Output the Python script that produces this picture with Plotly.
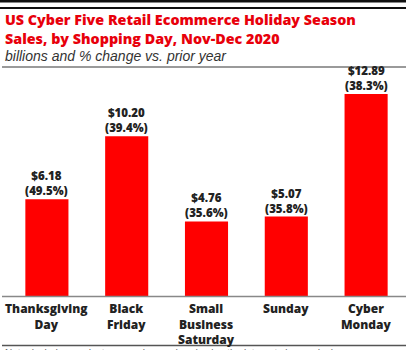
import plotly.graph_objects as go

# Cyber Five shopping days, sales in billions and % change vs. prior year
days = ["Thanksgiving<br>Day", "Black<br>Friday", "Small<br>Business<br>Saturday", "Sunday", "Cyber<br>Monday"]
sales = [6.18, 10.20, 4.76, 5.07, 12.89]
pct_change = [49.5, 39.4, 35.6, 35.8, 38.3]

W, H = 406, 350
ML, MR, MT, MB = 7, 0, 75, 54
PH = H - MT - MB
PW = W - ML - MR


def py(p):
    """pixel row -> paper y"""
    return (H - MB - p) / PH


def px(p):
    """pixel column -> paper x"""
    return (p - ML) / PW


RED = "#ff0000"
BOLD = "Open Sans"

fig = go.Figure(
    go.Bar(
        x=list(range(len(days))),
        y=sales,
        marker=dict(color=RED, line=dict(width=0)),
        width=0.54,
        hoverinfo="skip",
    )
)

ann = []
# value and % change label above each bar
for i, (v, p) in enumerate(zip(sales, pct_change)):
    ann.append(dict(x=i, y=v, xref="x", yref="y", text=f"${v:.2f}<br>({p:.1f}%)",
                    showarrow=False, yanchor="bottom", yshift=-1,
                    font=dict(family=BOLD, size=11.5, color="#222", weight=800)))

# category labels under each bar
for i, d in enumerate(days):
    ann.append(dict(x=i, y=py(298), xref="x", yref="paper",
                    text=d, showarrow=False, yanchor="top",
                    font=dict(family=BOLD, size=12, color="#222", weight=800)))

# title block
ann += [
    dict(x=px(3), y=py(8), xref="paper", yref="paper", xanchor="left", yanchor="top",
         align="left",
         text="US Cyber Five Retail Ecommerce Holiday Season<br>Sales, by Shopping Day, Nov-Dec 2020",
         showarrow=False, font=dict(family=BOLD, size=14.3, color="#e8000b", weight=800)),
    dict(x=px(3), y=py(46), xref="paper", yref="paper", xanchor="left", yanchor="top",
         text="<i>billions and % change vs. prior year</i>", showarrow=False,
         font=dict(family="Liberation Sans", size=14, color="#333")),
    dict(x=px(3), y=py(346), xref="paper", yref="paper", xanchor="left", yanchor="top",
         text="Note: includes products or services ordered using the internet via any device",
         showarrow=False, font=dict(family="Liberation Sans", size=10, color="#666")),
]

shapes = [
    dict(type="line", xref="paper", yref="paper", x0=px(0), x1=px(406), y0=py(1), y1=py(1),
         line=dict(color="#111", width=3)),
    dict(type="line", xref="paper", yref="paper", x0=px(0), x1=px(406), y0=py(8), y1=py(8),
         line=dict(color="#111", width=2)),
    dict(type="line", xref="paper", yref="paper", x0=px(2), x1=px(406), y0=py(67), y1=py(67),
         line=dict(color="#9a9a9a", width=2)),
    dict(type="line", xref="paper", yref="paper", x0=px(2), x1=px(406), y0=py(296.5), y1=py(296.5),
         line=dict(color="#888", width=1.5)),
    dict(type="line", xref="paper", yref="paper", x0=px(2), x1=px(406), y0=py(345.5), y1=py(345.5),
         line=dict(color="#555", width=1.5)),
]

fig.update_layout(
    width=W, height=H,
    margin=dict(l=ML, r=MR, t=MT, b=MB),
    paper_bgcolor="white", plot_bgcolor="white",
    showlegend=False,
    annotations=ann,
    shapes=shapes,
    xaxis=dict(range=[-0.5, len(days) - 0.5], showticklabels=False, showgrid=False,
               zeroline=False, showline=False, fixedrange=True),
    yaxis=dict(range=[0, 14.1], showticklabels=False, showgrid=False,
               zeroline=False, showline=False, fixedrange=True),
)

fig.write_html("out.html", config={"displayModeBar": False})
